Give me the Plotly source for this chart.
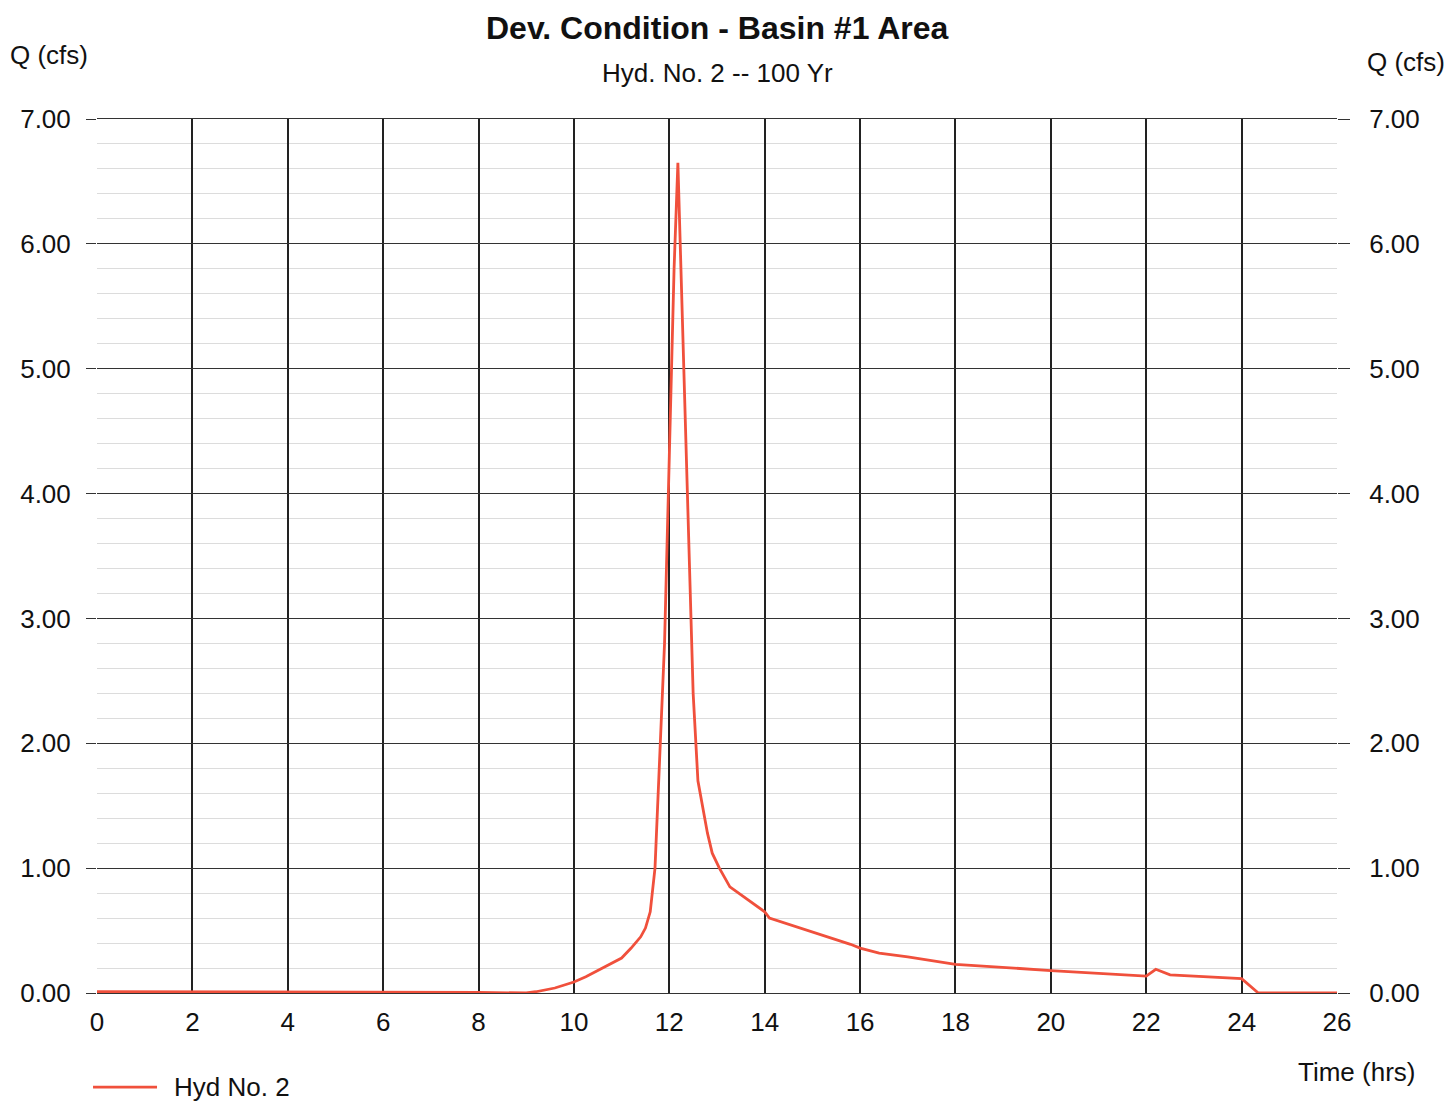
import plotly.graph_objects as go

time_hrs = [0, 2, 4, 6, 8, 9.0, 9.2, 9.6, 10.0, 10.25, 10.5, 10.75, 11.0, 11.2, 11.4, 11.5,
            11.6, 11.7, 11.8, 11.9, 12.0, 12.1, 12.18, 12.3, 12.4, 12.5, 12.6, 12.7, 12.8,
            12.9, 13.05, 13.27, 13.6, 14.0, 14.1, 15.0, 15.8, 16.0, 16.4, 17.0, 18.0, 20.0,
            22.0, 22.2, 22.5, 24.0, 24.35, 26.0]
q_cfs = [0.01, 0.01, 0.01, 0.01, 0.005, 0.0, 0.01, 0.04, 0.088, 0.13, 0.18, 0.23, 0.28, 0.36,
         0.45, 0.52, 0.65, 1.0, 1.9, 2.8, 4.3, 5.8, 6.65, 5.0, 3.6, 2.4, 1.7, 1.5, 1.28,
         1.12, 1.0, 0.85, 0.76, 0.65, 0.6, 0.49, 0.39, 0.36, 0.32, 0.29, 0.23, 0.18,
         0.135, 0.19, 0.145, 0.115, 0.0, 0.0]

x_ticks = list(range(0, 27, 2))
y_ticks = [0, 1, 2, 3, 4, 5, 6, 7]
series_name = "Hyd No. 2"

FONT = "Liberation Sans, Arial, sans-serif"
LINE_COLOR = "#f0503c"
FS = 26

fig = go.Figure()
fig.add_trace(go.Scatter(x=time_hrs, y=q_cfs, mode="lines", name=series_name,
                         line=dict(color=LINE_COLOR, width=2.8), showlegend=False))
fig.add_trace(go.Scatter(x=time_hrs, y=q_cfs, mode="lines", yaxis="y2", showlegend=False,
                         hoverinfo="skip", line=dict(color="rgba(0,0,0,0)", width=0)))

axis_font = dict(family=FONT, size=FS, color="#111")
fig.update_layout(
    width=1450, height=1101,
    margin=dict(l=97, r=113, t=119, b=108, autoexpand=False),
    paper_bgcolor="white", plot_bgcolor="white",
    font=dict(family=FONT, color="#111"),
    showlegend=False,
    xaxis=dict(range=[0, 26], tickvals=x_ticks, ticktext=[str(v) for v in x_ticks],
               showgrid=True, gridcolor="#222", gridwidth=1.6, zeroline=False,
               showline=True, linecolor="#333", linewidth=1, mirror=True,
               ticks="", ticklabelstandoff=6, tickfont=axis_font, fixedrange=True),
    yaxis=dict(range=[0, 7], tickvals=y_ticks, ticktext=[f"{v:.2f}" for v in y_ticks],
               showgrid=True, gridcolor="#333", gridwidth=1, zeroline=False,
               showline=False, ticks="outside", ticklen=10, tickcolor="#333",
               ticklabelstandoff=10, tickfont=axis_font,
               minor=dict(dtick=0.2, showgrid=True, gridcolor="#dcdcdc", gridwidth=1, ticks=""),
               fixedrange=True),
    yaxis2=dict(range=[0, 7], tickvals=y_ticks, ticktext=[f"{v:.2f}" for v in y_ticks],
                overlaying="y", side="right", showgrid=False, zeroline=False,
                showline=False, ticks="outside", ticklen=12, tickcolor="#333",
                ticklabelstandoff=14, tickfont=axis_font, fixedrange=True),
    shapes=[
        dict(type="line", xref="paper", yref="paper", x0=-0.0032, x1=0.0484,
             y0=-0.1076, y1=-0.1076, line=dict(color=LINE_COLOR, width=2.8)),
    ],
    annotations=[
        dict(text="<b>Dev. Condition - Basin #1 Area</b>", xref="paper", yref="paper",
             x=0.5008, y=1.104, xanchor="center", yanchor="middle", showarrow=False,
             font=dict(family=FONT, size=32, color="#111")),
        dict(text="Hyd. No. 2 -- 100 Yr", xref="paper", yref="paper",
             x=0.5008, y=1.0526, xanchor="center", yanchor="middle", showarrow=False,
             font=dict(family=FONT, size=FS, color="#111")),
        dict(text="Q (cfs)", xref="paper", yref="paper", x=-0.0387, y=1.073,
             xanchor="center", yanchor="middle", showarrow=False,
             font=dict(family=FONT, size=FS, color="#111")),
        dict(text="Q (cfs)", xref="paper", yref="paper", x=1.0556, y=1.065,
             xanchor="center", yanchor="middle", showarrow=False,
             font=dict(family=FONT, size=FS, color="#111")),
        dict(text="Time (hrs)", xref="paper", yref="paper", x=1.0645, y=-0.09,
             xanchor="right", yanchor="middle", showarrow=False,
             font=dict(family=FONT, size=FS, color="#111")),
        dict(text=series_name, xref="paper", yref="paper", x=0.0605, y=-0.1076,
             xanchor="left", yanchor="middle", showarrow=False,
             font=dict(family=FONT, size=FS, color="#111")),
    ],
)

fig.write_html("out.html")
